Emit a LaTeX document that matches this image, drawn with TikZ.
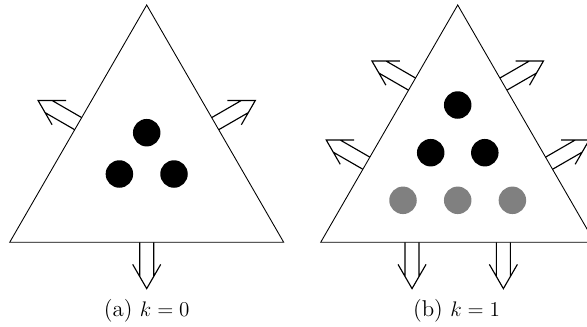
\documentclass[tikz,border=0pt]{standalone}
\usepackage{tikz}
\usetikzlibrary{calc}
\definecolor{ghostgray}{RGB}{128,128,128}
\tikzset{
  cell/.style={draw=black, line width=0.5pt},
  agent/.style={circle, fill=black, minimum size=0.55cm, inner sep=0pt},
  newagent/.style={agent, fill=ghostgray},
  caption/.style={font=\fontsize{13}{15}\selectfont},
  outflow/.pic={
    \draw[line width=0.65pt]
      (0,7) -- (34.2,7)
      (0,-7) -- (34.2,-7)
      (22.1,14) -- (46.3,0) -- (22.1,-14);
  },
}

\begin{document}
\begin{tikzpicture}[x=0.02cm, y=0.02cm]
\useasboundingbox (0,0) rectangle (587,326);

% -- (a) k = 0 --------------------------------------------------------------
\coordinate (a-top)   at (146.7,321);
\coordinate (a-left)  at (9.7,83.7);
\coordinate (a-right) at (283.7,83.7);
\draw[cell] (a-top) -- (a-left) -- (a-right) -- cycle;

\pic[rotate=150] at ($(a-left)!0.5!(a-top)$)   {outflow};
\pic[rotate=30]  at ($(a-right)!0.5!(a-top)$)  {outflow};
\pic[rotate=-90] at ($(a-left)!0.5!(a-right)$) {outflow};

\node[agent] (a1) at (146.7,193.3) {};
\node[agent] (a2) at (119.4,152)   {};
\node[agent] (a3) at (174,152)     {};

\node[caption] (acap) at (146.7,15.3) {(a) $k=0$};

% -- (b) k = 1 --------------------------------------------------------------
\coordinate (b-top)   at (457.7,321);
\coordinate (b-left)  at (320.7,83.7);
\coordinate (b-right) at (594.7,83.7);
\draw[cell] (b-top) -- (b-left) -- (b-right) -- cycle;

\pic[rotate=150] at ($(b-left)!1/3!(b-top)$)   {outflow};
\pic[rotate=150] at ($(b-left)!2/3!(b-top)$)   {outflow};
\pic[rotate=30]  at ($(b-right)!1/3!(b-top)$)  {outflow};
\pic[rotate=30]  at ($(b-right)!2/3!(b-top)$)  {outflow};
\pic[rotate=-90] at ($(b-left)!1/3!(b-right)$) {outflow};
\pic[rotate=-90] at ($(b-left)!2/3!(b-right)$) {outflow};

\node[agent] (b1) at (457.7,221)   {};
\node[agent] (b2) at (430.7,173.3) {};
\node[agent] (b3) at (484.8,173.3) {};
\node[newagent] (b4) at (403,125.7)   {};
\node[newagent] (b5) at (457.7,125.7) {};
\node[newagent] (b6) at (512.4,125.7) {};

\node[caption] (bcap) at (456.5,15.3) {(b) $k=1$};

\end{tikzpicture}
\end{document}
